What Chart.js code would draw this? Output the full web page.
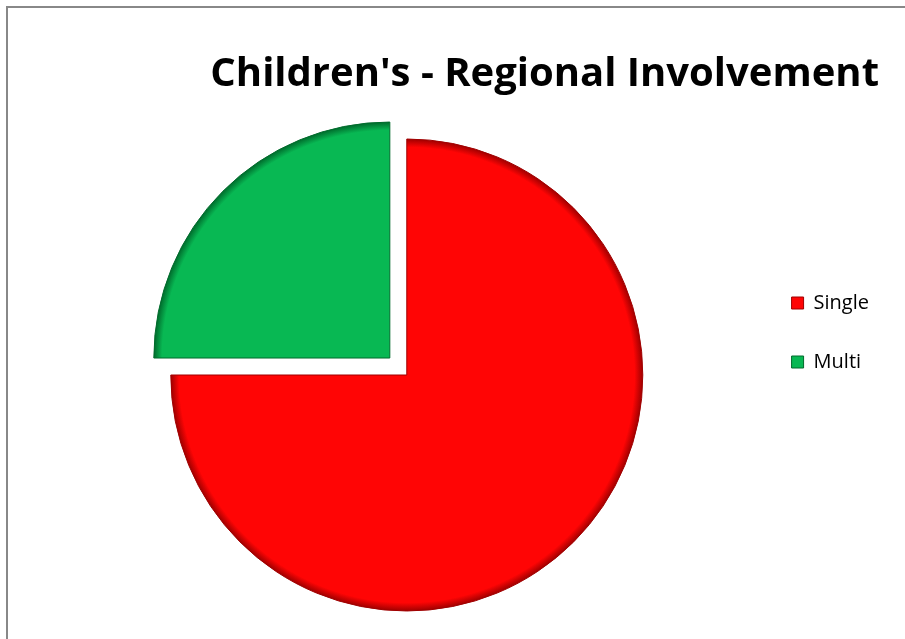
<!DOCTYPE html>
<html>
<head>
<meta charset="utf-8">
<script src="https://cdn.jsdelivr.net/npm/chart.js@4/dist/chart.umd.min.js"></script>
<style>
  html, body { margin: 0; padding: 0; background: #fff; overflow: hidden; }
  .frame { position: absolute; left: 6px; top: 6px; width: 1000px; height: 1000px; border: 2px solid #888; }
  .wrap { position: absolute; left: 0; top: 0; width: 905px; height: 639px; }
</style>
</head>
<body>
<div class="frame"></div>
<div class="wrap"><canvas id="chart" width="905" height="639"></canvas></div>
<script>
const titleText = "Children's - Regional Involvement"
const categories = ['Single', 'Multi']
const shares = [75, 25]
const sliceColors = ['#ff0505', '#08b853']
const rimColors = ['#a00000', '#006b2c']
// chart.js moves an arc by offset / 4
const explode = [0, 96]

function rimGradient(ctx) {
  const chart = ctx.chart
  const area = chart.chartArea
  const i = ctx.dataIndex
  if (!area) return sliceColors[i]
  const cx = (area.left + area.right) / 2
  const cy = (area.top + area.bottom) / 2
  const r = 236
  const g = chart.ctx.createRadialGradient(cx, cy, 0, cx, cy, r)
  g.addColorStop(0, sliceColors[i])
  g.addColorStop(0.965, sliceColors[i])
  g.addColorStop(1, rimColors[i])
  return g
}

new Chart(document.getElementById('chart').getContext('2d'), {
  type: 'pie',
  data: {
    labels: categories,
    datasets: [{
      data: shares,
      backgroundColor: rimGradient,
      borderColor: rimColors,
      borderWidth: 1,
      offset: explode,
      hoverOffset: 0,
    }],
  },
  options: {
    responsive: false,
    animation: false,
    radius: 236,
    layout: { padding: { left: 61, right: 26, top: 30, bottom: 4 } },
    plugins: {
      tooltip: { enabled: false },
      title: {
        display: true,
        text: titleText,
        align: 'end',
        color: '#000',
        font: { family: '"Open Sans", sans-serif', size: 40, weight: 'bold' },
        padding: { top: 21, bottom: 16 },
      },
      legend: {
        position: 'right',
        align: 'center',
        labels: {
          color: '#000',
          boxWidth: 12,
          boxHeight: 12,
          padding: 39,
          font: { family: '"Open Sans", sans-serif', size: 20 },
          generateLabels(chart) {
            return Chart.overrides.pie.plugins.legend.labels.generateLabels(chart).map((item, i) => ({
              ...item,
              fillStyle: sliceColors[i],
              strokeStyle: rimColors[i],
              lineWidth: 1,
            }))
          },
        },
      },
    },
  },
})
</script>
</body>
</html>
